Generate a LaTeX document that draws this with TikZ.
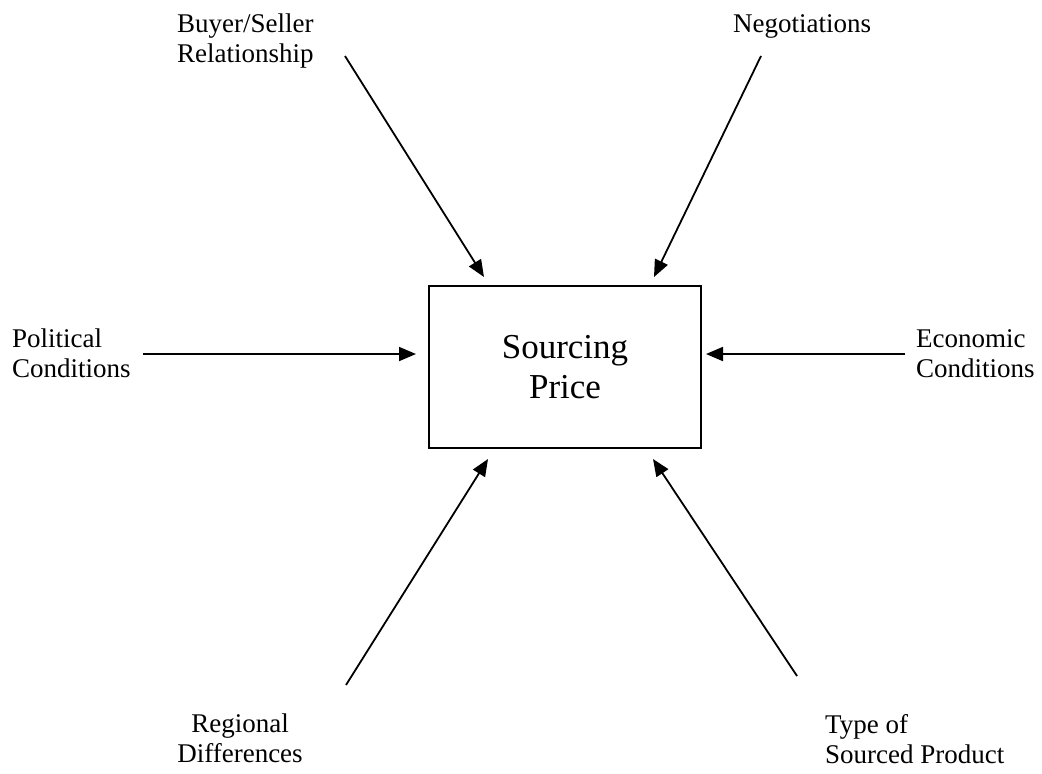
\documentclass[tikz,border=0pt]{standalone}
\usepackage{fontspec}
\setmainfont{Liberation Serif}
\usetikzlibrary{arrows.meta}
\begin{document}
\begin{tikzpicture}[x=1pt,y=-1pt,
  lbl/.style={inner sep=0pt,font=\fontsize{27}{30}\selectfont},
  lblL/.style={lbl,align=left,anchor=base west},
  lblC/.style={lbl,align=center,anchor=base},
  mainbox/.style={draw,line width=1.8pt,minimum width=272pt,minimum height=162pt,inner sep=0pt,align=center,font=\fontsize{35}{40}\selectfont},
  arr/.style={line width=1.8pt,-{Triangle[length=17pt,width=14pt]}}]
\useasboundingbox (0,0) rectangle (1042,774);
\node[mainbox] (box) at (565,367) {Sourcing\\Price};
\node[lblL] (buyer) at (177,62) {Buyer/Seller\\Relationship};
\node[lblL] (neg) at (733,32) {Negotiations};
\node[lblL] (pol) at (12,377) {Political\\Conditions};
\node[lblL] (eco) at (916,377) {Economic\\Conditions};
\node[lblC] (reg) at (240,762) {Regional\\Differences};
\node[lblL] (type) at (825,763) {Type of\\Sourced Product};
\coordinate (buyerS) at (345,56);
\coordinate (buyerT) at (484,277);
\coordinate (negS) at (761,56);
\coordinate (negT) at (654,277);
\coordinate (polS) at (143,354);
\coordinate (polT) at (416,354);
\coordinate (ecoS) at (905,354);
\coordinate (ecoT) at (706,354);
\coordinate (regS) at (346,685);
\coordinate (regT) at (488,459);
\coordinate (typeS) at (797,676);
\coordinate (typeT) at (653,459);
\draw[arr] (buyerS) -- (buyerT);
\draw[arr] (negS) -- (negT);
\draw[arr] (polS) -- (polT);
\draw[arr] (ecoS) -- (ecoT);
\draw[arr] (regS) -- (regT);
\draw[arr] (typeS) -- (typeT);
\end{tikzpicture}
\end{document}
